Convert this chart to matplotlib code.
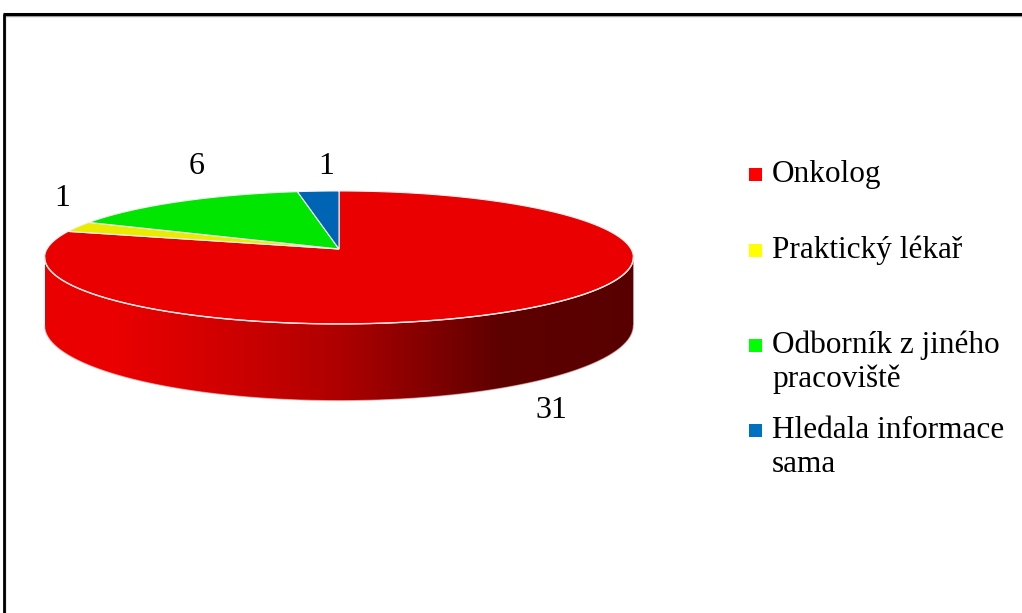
import numpy as np
import matplotlib.pyplot as plt
from matplotlib.patches import Polygon, Rectangle
from matplotlib.colors import to_rgb

plt.rcParams['font.family'] = ['Liberation Serif', 'DejaVu Serif']
SERIF = ['Liberation Serif', 'DejaVu Serif']

# data
labels = ["Onkolog", "Praktický lékař", "Odborník z jiného\npracoviště",
          "Hledala informace\nsama"]
counts = [31, 1, 6, 1]
face_colors = ["#EB0000", "#EBEB00", "#00E600", "#0064B4"]
key_colors = ["#FF0000", "#FFFF00", "#00FF00", "#0070C0"]

# layout (pixel-like coordinates, y grows downward)
W, H = 1022, 613
CX, CY = 339, 249        # pie centre
RX, RY = 292, 65.4       # radii of the top face
DEPTH = 67               # thickness of the disc
PERSP = 0.127            # perspective strength
label_pos = [(551, 410), (62, 199), (197, 166), (326, 166)]
key_x, key_text_x = 749, 772
key_baselines = [182, 258, 353, 438]
line_step = 34

# side shading vs. x (fraction of the top colour)
shade_x = [45, 110, 230, 340, 440, 500, 633]
shade_v = [1.0, 1.0, 0.88, 0.74, 0.53, 0.40, 0.375]


def project(theta, drop=0.0):
    s = 1.0 / (1.0 + PERSP * np.sin(theta))
    x = CX + RX * np.cos(theta) * s
    y = CY - RY * np.sin(theta) * s + DEPTH * drop * s
    return x, y


fig = plt.figure(figsize=(W / 100, H / 100), dpi=100)
ax = fig.add_axes([0, 0, 1, 1])
ax.set_xlim(0, W)
ax.set_ylim(H, 0)
ax.axis('off')

# slice angles, clockwise from 12 o'clock
fracs = np.array(counts) / sum(counts)
starts = np.pi / 2 - 2 * np.pi * np.concatenate([[0], np.cumsum(fracs)[:-1]])
ends = starts - 2 * np.pi * fracs

# visible side of the disc (front half, trimmed to the silhouette)
edge = np.arcsin(PERSP)
for t0, t1, col in zip(starts, ends, face_colors):
    for k in (-1, 0, 1):
        lo = max(t1, -np.pi + edge + 2 * np.pi * k)
        hi = min(t0, -edge + 2 * np.pi * k)
        if hi <= lo:
            continue
        th = np.linspace(lo, hi, 200)
        tx, ty = project(th)
        bx, by = project(th[::-1], 1.0)
        pts = np.column_stack([np.r_[tx, bx], np.r_[ty, by]])
        side = Polygon(pts, closed=True, facecolor='none', edgecolor='none')
        ax.add_patch(side)
        x0, x1 = pts[:, 0].min(), pts[:, 0].max()
        y0, y1 = pts[:, 1].min(), pts[:, 1].max()
        xs = np.linspace(x0, x1, 400)
        v = np.interp(xs, shade_x, shade_v)
        img = np.array(to_rgb(col))[None, None, :] * v[None, :, None]
        im = ax.imshow(np.repeat(img, 2, axis=0), extent=(x0, x1, y1, y0),
                       aspect='auto', interpolation='bilinear', zorder=1)
        im.set_clip_path(side)
        # light rim along the top and bottom front edges
        ax.plot(tx, ty, color='#FFE6E6', lw=1.0, zorder=3)
        ax.plot(bx, by, color='#F4C8C8', lw=0.8, alpha=0.6, zorder=2)

# top face
for t0, t1, col in zip(starts, ends, face_colors):
    th = np.linspace(t0, t1, 200)
    x, y = project(th)
    pts = np.column_stack([np.r_[CX, x], np.r_[CY, y]])
    ax.add_patch(Polygon(pts, closed=True, facecolor=col,
                         edgecolor='#F2F2F2', lw=0.8, zorder=2))

# value labels
for (lx, ly), n in zip(label_pos, counts):
    ax.text(lx, ly, str(n), fontsize=23, ha='center', va='center',
            color='black', family=SERIF)

# legend
for lab, col, base in zip(labels, key_colors, key_baselines):
    ax.add_patch(Rectangle((key_x, base - 14), 13, 13, facecolor=col,
                           edgecolor='none'))
    for i, line in enumerate(lab.split('\n')):
        ax.text(key_text_x, base + i * line_step, line, fontsize=22.5,
                ha='left', va='baseline', color='black', family=SERIF)

# chart frame: only the top and left sides fall inside the image
ax.plot([5, 5], [15, H + 10], color='#A0A0A0', lw=1.0, zorder=4,
        clip_on=False)
ax.plot([6, W + 10], [15.5, 15.5], color='#A0A0A0', lw=1.0, zorder=4,
        clip_on=False)
ax.plot([4, 4], [13.5, H + 10], color='black', lw=2.0, zorder=5,
        solid_capstyle='butt', clip_on=False)
ax.plot([3, W + 10], [13.5, 13.5], color='black', lw=2.2, zorder=5,
        solid_capstyle='butt', clip_on=False)

fig.savefig('out.png', dpi=100)
